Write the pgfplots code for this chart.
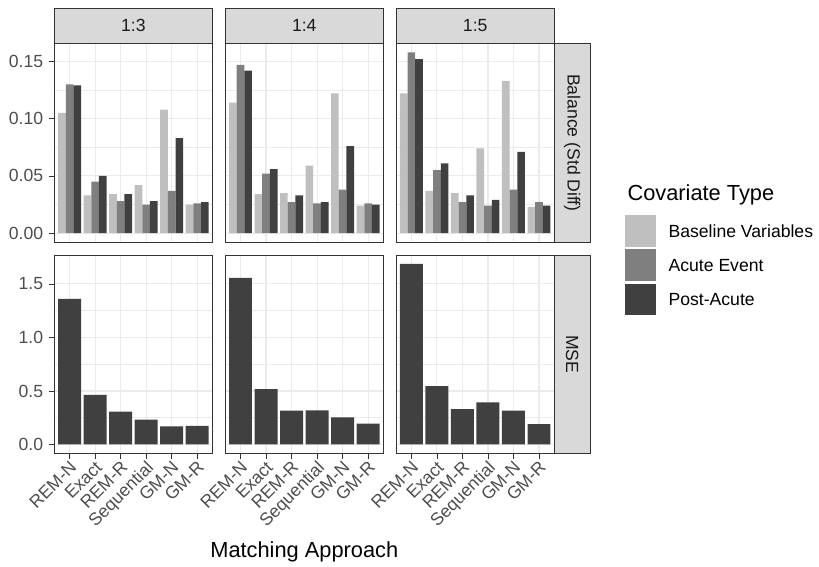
\documentclass[border=0pt]{standalone}
\usepackage{fontspec}
\setmainfont{Liberation Sans}
\usepackage{pgfplots}
\pgfplotsset{compat=1.18}
\definecolor{g20}{HTML}{333333}
\definecolor{g30}{HTML}{4D4D4D}
\definecolor{g10}{HTML}{1A1A1A}
\definecolor{g85}{HTML}{D9D9D9}
\definecolor{g92}{HTML}{EBEBEB}
\definecolor{cl}{HTML}{BFBFBF}
\definecolor{cm}{HTML}{7F7F7F}
\definecolor{cd}{HTML}{404040}
\newcommand{\txt}{\fontsize{17.6}{20}\selectfont}
\newcommand{\ttl}{\fontsize{21.8}{25}\selectfont}
\pgfplotsset{
  panel/.style={
    scale only axis, width=158.2pt, height=198.5pt, anchor=south west,
    xmin=-0.6, xmax=5.6, xtick={0,1,2,3,4,5},
    xmajorgrids, ymajorgrids, yminorgrids,
    major grid style={draw=g92, line width=1.1pt},
    minor grid style={draw=g92, line width=0.55pt},
    axis line style={draw=g20, line width=0.8pt},
    tick style={draw=g20, line width=0.8pt},
    tick align=outside, major tick length=5.5pt, minor tick length=0pt,
    xtick pos=bottom, ytick pos=left,
    tick label style={font=\txt, text=g30},
    yticklabel style={anchor=east, inner sep=0pt, xshift=-5.5pt},
    /pgf/number format/assume math mode=true,
  },
  toprow/.style={ymin=-0.0079, ymax=0.1655, ytick={0,0.05,0.1,0.15},
    minor ytick={0.025,0.075,0.125}, xticklabels={}, xtick style={draw=none}},
  botrow/.style={ymin=-0.0843, ymax=1.770, ytick={0,0.5,1,1.5},
    minor ytick={0.25,0.75,1.25},
    xticklabels={REM-N,Exact,REM-R,Sequential,GM-N,GM-R},
    xticklabel style={rotate=45, anchor=north east, inner sep=0pt, xshift=-1pt}},
  inner/.style={yticklabels={}, ytick style={draw=none}},
  sqleg/.style={legend image code/.code={\fill[##1,draw=none] (0pt,-9.4pt) rectangle (31.7pt,22.3pt);}},
  bL/.style={ybar, bar width=0.3, bar shift=-0.3, fill=cl, draw=none, sqleg},
  bM/.style={ybar, bar width=0.3, bar shift=0, fill=cm, draw=none, sqleg},
  bD/.style={ybar, bar width=0.3, bar shift=0.3, fill=cd, draw=none, sqleg},
  bS/.style={ybar, bar width=0.9, bar shift=0, fill=cd, draw=none},
}
\begin{document}
\begin{tikzpicture}
\path[use as bounding box] (0pt,0pt) rectangle (819pt,566pt);
% ---------- top row: Balance ----------
\begin{axis}[panel, toprow, at={(54.3pt,323.8pt)}, yticklabels={0.00,0.05,0.10,0.15}]
\addplot[bL] coordinates {(0,0.105) (1,0.033) (2,0.034) (3,0.042) (4,0.108) (5,0.025)};
\addplot[bM] coordinates {(0,0.130) (1,0.045) (2,0.028) (3,0.025) (4,0.037) (5,0.026)};
\addplot[bD] coordinates {(0,0.129) (1,0.050) (2,0.034) (3,0.028) (4,0.083) (5,0.027)};
\end{axis}
\begin{axis}[panel, toprow, inner, at={(225.2pt,323.8pt)}]
\addplot[bL] coordinates {(0,0.114) (1,0.034) (2,0.035) (3,0.059) (4,0.122) (5,0.024)};
\addplot[bM] coordinates {(0,0.147) (1,0.052) (2,0.027) (3,0.026) (4,0.038) (5,0.026)};
\addplot[bD] coordinates {(0,0.142) (1,0.056) (2,0.033) (3,0.027) (4,0.076) (5,0.025)};
\end{axis}
\begin{axis}[panel, toprow, inner, at={(396.1pt,323.8pt)},
  legend style={at={(1.4445,0.137)}, anchor=north west, draw=none, fill=none,
    inner sep=0pt, outer sep=0pt, row sep=2.6pt, column sep=12.3pt,
    nodes={inner sep=0pt, anchor=base west, font=\txt, text=black}}]
\addplot[bL] coordinates {(0,0.122) (1,0.037) (2,0.035) (3,0.074) (4,0.133) (5,0.023)};
\addplot[bM] coordinates {(0,0.158) (1,0.055) (2,0.027) (3,0.024) (4,0.038) (5,0.027)};
\addplot[bD] coordinates {(0,0.152) (1,0.061) (2,0.033) (3,0.029) (4,0.071) (5,0.024)};
\legend{Baseline Variables,Acute Event,Post-Acute}
\end{axis}
% ---------- bottom row: MSE ----------
\begin{axis}[panel, botrow, at={(54.3pt,112.5pt)}, yticklabels={0.0,0.5,1.0,1.5}]
\addplot[bS] coordinates {(0,1.361) (1,0.464) (2,0.306) (3,0.232) (4,0.170) (5,0.173)};
\end{axis}
\begin{axis}[panel, botrow, inner, at={(225.2pt,112.5pt)}]
\addplot[bS] coordinates {(0,1.556) (1,0.517) (2,0.316) (3,0.319) (4,0.254) (5,0.195)};
\end{axis}
\begin{axis}[panel, botrow, inner, at={(396.1pt,112.5pt)}]
\addplot[bS] coordinates {(0,1.686) (1,0.544) (2,0.331) (3,0.393) (4,0.316) (5,0.189)};
\end{axis}
% ---------- strips ----------
\foreach \x/\t in {54.3/1:3, 225.2/1:4, 396.1/1:5}{
  \draw[fill=g85, draw=g20, line width=0.8pt] (\x pt,522.3pt) rectangle ++(158.2pt,35.7pt);
  \node[font=\txt, text=g10, anchor=center] at ([xshift=79.1pt]\x pt,540.15pt) {\t};
}
\draw[fill=g85, draw=g20, line width=0.8pt] (554.3pt,323.8pt) rectangle (590pt,522.3pt);
\node[font=\txt, text=g10, rotate=-90, anchor=center] at (572.15pt,423.05pt) {Balance (Std Diff)};
\draw[fill=g85, draw=g20, line width=0.8pt] (554.3pt,112.5pt) rectangle (590pt,311pt);
\node[font=\txt, text=g10, rotate=-90, anchor=center] at (572.15pt,211.75pt) {MSE};
% ---------- titles ----------
\node[font=\ttl, anchor=base] at (304.3pt,9pt) {Matching Approach};
\node[font=\ttl, anchor=base west] at (624pt,366pt) {Covariate Type};
\end{tikzpicture}
\end{document}
